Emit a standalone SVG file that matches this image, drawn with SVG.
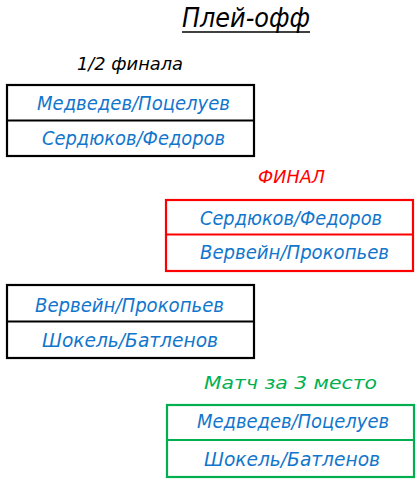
<svg xmlns="http://www.w3.org/2000/svg" width="420" height="480" viewBox="0 0 420 480">
<style>
text{font-family:"DejaVu Sans","Liberation Sans",sans-serif;font-style:italic;}
.t{font-size:20px;fill:#1276CC;}
.box{fill:#fff;stroke-width:2.2;}
.k{stroke:#000;}
.r{stroke:#FF0000;}
.g{stroke:#00B050;}
.h{font-size:18px;}
</style>
<rect width="420" height="480" fill="#fff"/>
<g id="title">
<text x="182" y="27" font-size="26" textLength="128" lengthAdjust="spacingAndGlyphs">Плей-офф</text>
<line x1="182" y1="32" x2="310" y2="32" stroke="#000" stroke-width="1.5"/>
</g>
<g id="semi-label"><text class="h" x="77" y="70" textLength="106" lengthAdjust="spacingAndGlyphs">1/2 финала</text></g>
<g id="semi1">
<rect class="box k" x="7" y="85" width="247" height="71"/>
<line class="k" x1="7" y1="120.5" x2="254" y2="120.5" stroke-width="2"/>
<text class="t" x="37" y="110" textLength="193" lengthAdjust="spacingAndGlyphs">Медведев/Поцелуев</text>
<text class="t" x="42" y="145" textLength="183" lengthAdjust="spacingAndGlyphs">Сердюков/Федоров</text>
</g>
<g id="final-label"><text class="h" x="258" y="183" fill="#FF0000" textLength="67" lengthAdjust="spacingAndGlyphs">ФИНАЛ</text></g>
<g id="final">
<rect class="box r" x="166" y="200" width="247" height="71"/>
<line class="r" x1="166" y1="234.5" x2="413" y2="234.5" stroke-width="2"/>
<text class="t" x="200" y="225" textLength="182" lengthAdjust="spacingAndGlyphs">Сердюков/Федоров</text>
<text class="t" x="200" y="259" textLength="189" lengthAdjust="spacingAndGlyphs">Вервейн/Прокопьев</text>
</g>
<g id="semi2">
<rect class="box k" x="7" y="285" width="247" height="73"/>
<line class="k" x1="7" y1="321.5" x2="254" y2="321.5" stroke-width="2"/>
<text class="t" x="35" y="312" textLength="189" lengthAdjust="spacingAndGlyphs">Вервейн/Прокопьев</text>
<text class="t" x="42" y="347" textLength="176" lengthAdjust="spacingAndGlyphs">Шокель/Батленов</text>
</g>
<g id="third-label"><text class="h" x="204" y="389" fill="#00B050" textLength="173" lengthAdjust="spacingAndGlyphs">Матч за 3 место</text></g>
<g id="third">
<rect class="box g" x="167" y="405" width="247" height="72"/>
<line class="g" x1="167" y1="440" x2="414" y2="440" stroke-width="2"/>
<text class="t" x="197" y="428" textLength="192" lengthAdjust="spacingAndGlyphs">Медведев/Поцелуев</text>
<text class="t" x="204" y="466" textLength="176" lengthAdjust="spacingAndGlyphs">Шокель/Батленов</text>
</g>
<g id="connectors"></g>
</svg>
